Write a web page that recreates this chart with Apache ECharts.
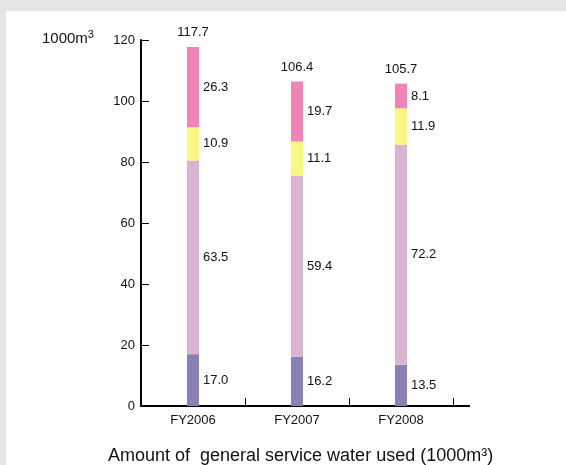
<!DOCTYPE html>
<html>
<head>
<meta charset="utf-8">
<script src="https://cdn.jsdelivr.net/npm/echarts@6/dist/echarts.min.js"></script>
<style>
html,body{margin:0;padding:0;background:#e5e5e5;width:566px;height:465px;overflow:hidden;}
#chart{position:absolute;left:6px;top:11px;width:560px;height:454px;background:#ffffff;}
</style>
</head>
<body>
<div id="chart"></div>
<script>
var categories = ['FY2006', 'FY2007', 'FY2008'];
var seriesA = [17.0, 16.2, 13.5];   // bottom (purple)
var seriesB = [63.5, 59.4, 72.2];   // lilac
var seriesC = [10.9, 11.1, 11.9];   // yellow
var seriesD = [26.3, 19.7, 8.1];    // top (pink)
var totals = [117.7, 106.4, 105.7];
var yTicks = [0, 20, 40, 60, 80, 100, 120];

var FONT = '"Liberation Sans", Arial, Helvetica, sans-serif';
var chart = echarts.init(document.getElementById('chart'), null, {renderer: 'canvas'});

function seg(name, data, color) {
  return {
    name: name,
    type: 'bar',
    stack: 'total',
    barWidth: 12,
    data: data,
    itemStyle: {color: color},
    label: {
      show: true,
      position: 'right',
      distance: 4,
      color: '#111',
      fontSize: 13,
      fontFamily: FONT,
      formatter: function (p) { return p.value.toFixed(1); }
    },
    emphasis: {disabled: true}
  };
}

chart.setOption({
  animation: false,
  backgroundColor: '#ffffff',
  textStyle: {fontFamily: FONT},
  title: [{
    text: '{a|1000m}{b|3}',
    left: 36,
    top: 18,
    padding: 0,
    textStyle: {
      fontWeight: 'normal',
      rich: {
        a: {fontSize: 15, fontWeight: 'normal', color: '#111', fontFamily: FONT, lineHeight: 17, verticalAlign: 'bottom'},
        b: {fontSize: 11, fontWeight: 'normal', color: '#111', fontFamily: FONT, lineHeight: 17, verticalAlign: 'top'}
      }
    }
  }, {
    text: 'Amount of  general service water used (1000m\u00B3)',
    left: 102,
    top: 436,
    padding: 0,
    textStyle: {fontSize: 18, fontWeight: 'normal', color: '#111', fontFamily: FONT}
  }],
  grid: {left: 135, top: 29, width: 312, height: 366, containLabel: false},
  xAxis: {
    type: 'category',
    data: categories,
    boundaryGap: true,
    axisLine: {show: true, lineStyle: {color: '#000', width: 2}},
    axisTick: {show: true, inside: true, length: 8, lineStyle: {color: '#000', width: 1}},
    axisLabel: {color: '#111', fontSize: 13, margin: 8, fontFamily: FONT},
    splitLine: {show: false}
  },
  yAxis: {
    type: 'value',
    min: yTicks[0],
    max: yTicks[yTicks.length - 1],
    interval: 20,
    axisLine: {show: true, lineStyle: {color: '#000', width: 2}},
    axisTick: {show: true, inside: true, length: 8, lineStyle: {color: '#000', width: 1}},
    axisLabel: {color: '#111', fontSize: 13, margin: 6, fontFamily: FONT},
    splitLine: {show: false}
  },
  graphic: [{
    type: 'line',
    shape: {x1: 446, y1: 395, x2: 464, y2: 395},
    style: {stroke: '#000', lineWidth: 2},
    silent: true
  }],
  series: [
    seg('A', seriesA, '#8a80b5'),
    seg('B', seriesB, '#dab4d1'),
    seg('C', seriesC, '#f9f880'),
    seg('D', seriesD, '#f283b8'),
    {
      name: 'Total',
      type: 'bar',
      stack: 'total',
      barWidth: 12,
      data: categories.map(function () { return 0; }),
      itemStyle: {color: 'rgba(0,0,0,0)'},
      label: {
        show: true,
        position: 'top',
        distance: 8,
        color: '#111',
        fontSize: 13,
        fontFamily: FONT,
        formatter: function (p) { return totals[p.dataIndex].toFixed(1); }
      },
      emphasis: {disabled: true},
      z: 5
    }
  ]
});
</script>
</body>
</html>
